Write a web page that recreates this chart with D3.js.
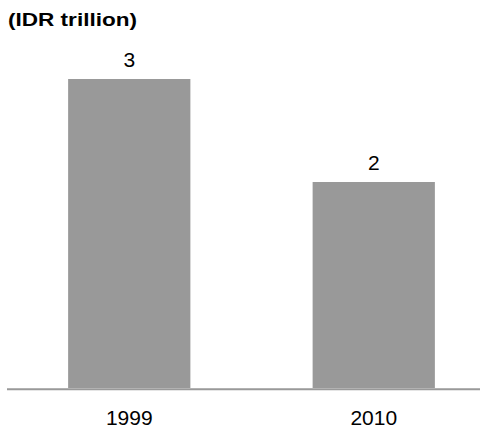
<!DOCTYPE html>
<html><head><meta charset="utf-8">
<script src="https://cdn.jsdelivr.net/npm/d3@7"></script>
<style>body{margin:0;background:#fff;} svg{display:block;font-family:Arial,"Liberation Sans",sans-serif;}</style>
</head><body>
<svg id="c" width="489" height="429"></svg>
<script>
const categories = ["1999", "2010"];
const values = [3, 2];
const valueLabels = ["3", "2"];
const unitLabel = "(IDR trillion)";

const svg = d3.select("#c");
const x = d3.scaleBand().domain(categories).range([7, 496]).paddingInner(0.5).paddingOuter(0.25);
const y = d3.scaleLinear().domain([0, 3]).range([388, 79]);

svg.append("text").attr("x", 8).attr("y", 26).attr("font-weight", "bold").attr("font-size", 18)
  .attr("textLength", 129).attr("lengthAdjust", "spacingAndGlyphs")
  .attr("fill", "#000").text(unitLabel);

svg.selectAll("rect.bar").data(values).enter().append("rect")
  .attr("class", "bar")
  .attr("x", (d, i) => x(categories[i]))
  .attr("width", x.bandwidth())
  .attr("y", d => y(d))
  .attr("height", d => y(0) - y(d))
  .attr("fill", "#999999");

svg.append("line").attr("x1", 7).attr("x2", 480).attr("y1", 389.3).attr("y2", 389.3)
  .attr("stroke", "#999999").attr("stroke-width", 2);

svg.selectAll("text.val").data(values).enter().append("text")
  .attr("class", "val")
  .attr("x", (d, i) => x(categories[i]) + x.bandwidth() / 2)
  .attr("y", d => y(d) - 12)
  .attr("text-anchor", "middle").attr("font-size", 21).attr("fill", "#000")
  .text((d, i) => valueLabels[i]);

svg.selectAll("text.cat").data(categories).enter().append("text")
  .attr("class", "cat")
  .attr("x", d => x(d) + x.bandwidth() / 2)
  .attr("y", 425)
  .attr("text-anchor", "middle").attr("font-size", 21).attr("fill", "#000")
  .text(d => d);
</script>
</body></html>
